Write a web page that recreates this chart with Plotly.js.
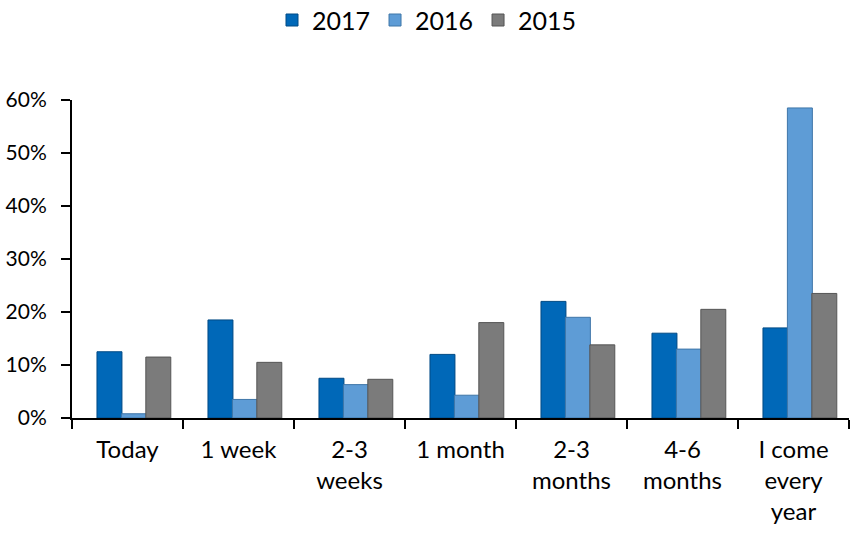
<!DOCTYPE html>
<html><head><meta charset="utf-8">
<script src="https://cdn.plot.ly/plotly-3.0.1.min.js"></script>
<style>html,body{margin:0;padding:0;background:#fff}</style>
</head><body>
<div id="chart" style="width:854px;height:533px"></div>
<script>
const categories = ["Today", "1 week", "2-3<br>weeks", "1 month", "2-3<br>months", "4-6<br>months", "I come<br>every<br>year"];
const seriesNames = ["2017", "2016", "2015"];
const values2017 = [12.5, 18.5, 7.5, 12, 22, 16, 17];
const values2016 = [0.8, 3.5, 6.3, 4.3, 19, 13, 58.5];
const values2015 = [11.5, 10.5, 7.3, 18, 13.8, 20.5, 23.5];
const yTickVals = [0, 10, 20, 30, 40, 50, 60];
const yTickText = ["0%", "10%", "20%", "30%", "40%", "50%", "60%"];

const colors = ["#0068B8", "#5E9CD6", "#7B7B7B"];
const edges = ["#004A85", "#3F76A8", "#555555"];
const offsets = [-0.275, -0.055, 0.165];
const all = [values2017, values2016, values2015];
const traces = all.map((v, i) => ({
  type: "bar", x: categories, y: v, name: seriesNames[i],
  width: 0.225, offset: offsets[i],
  marker: {color: colors[i], line: {color: edges[i], width: 1}},
  hoverinfo: "skip"
}));
const font = "Lato, 'Open Sans', sans-serif";
Plotly.newPlot("chart", traces, {
  width: 854, height: 533,
  margin: {l: 72, r: 5, t: 100, b: 115},
  paper_bgcolor: "#fff", plot_bgcolor: "#fff",
  font: {family: font, size: 21, color: "#000"},
  barmode: "group", bargap: 0.3, bargroupgap: 0,
  showlegend: true,
  legend: {orientation: "h", x: 0.5, xref: "container", xanchor: "center",
           y: 0.962, yref: "container", yanchor: "middle",
           font: {size: 25}, itemwidth: 30, traceorder: "normal"},
  xaxis: {showline: true, linecolor: "#000", linewidth: 2, ticks: "outside", ticklen: 9,
          tickwidth: 2, tickcolor: "#000", tickson: "boundaries", showgrid: false,
          tickfont: {size: 24}, ticklabelstandoff: 9, automargin: false, fixedrange: true},
  yaxis: {range: [0, 60], tickvals: yTickVals, ticktext: yTickText, showline: true,
          linecolor: "#000", linewidth: 2, ticks: "outside", ticklen: 9, tickwidth: 2,
          tickcolor: "#000", showgrid: false, zeroline: false, tickfont: {size: 21},
          ticklabelstandoff: 10, automargin: false, fixedrange: true}
}, {staticPlot: true});
</script>
</body></html>
